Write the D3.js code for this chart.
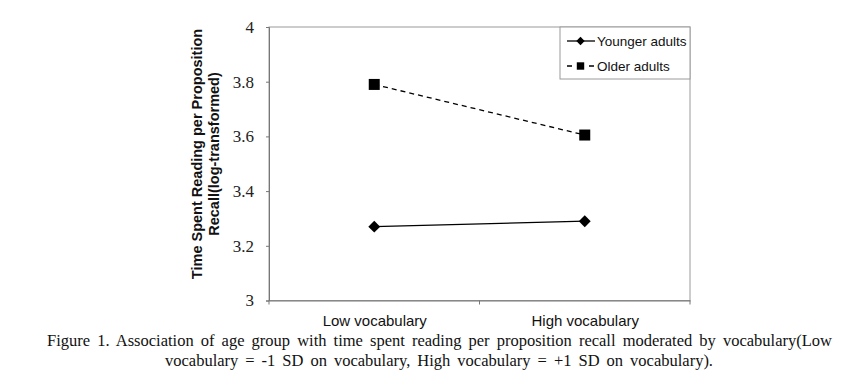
<!DOCTYPE html>
<html>
<head>
<meta charset="utf-8">
<script src="https://cdn.jsdelivr.net/npm/d3@7"></script>
<style>
  body { margin: 0; background: #fff; }
</style>
</head>
<body>
<div id="chart"></div>
<script>
// Data
var categories = ["Low vocabulary", "High vocabulary"];
var seriesNames = ["Younger adults", "Older adults"];
var youngerValues = [3.27, 3.29];
var olderValues = [3.79, 3.605];
var yTicks = [3, 3.2, 3.4, 3.6, 3.8, 4];
var yTitle = ["Time Spent Reading per Proposition", "Recall(log-transformed)"];
var caption = [
  "Figure 1. Association of age group with time spent reading per proposition recall moderated by vocabulary(Low",
  "vocabulary = -1 SD on vocabulary, High vocabulary = +1 SD on vocabulary)."
];

var width = 855;
var height = 384;
var plot = { left: 269, right: 690, top: 27, bottom: 300.5 };
var serif = "'Liberation Serif', 'Times New Roman', Times, serif";
var sans = "'Liberation Sans', Arial, Helvetica, sans-serif";

var svg = d3.select("#chart").append("svg")
    .attr("width", width)
    .attr("height", height);

var x = d3.scalePoint()
    .domain(categories)
    .range([plot.left, plot.right])
    .padding(0.5);

var y = d3.scaleLinear()
    .domain([3, 4])
    .range([plot.bottom, plot.top]);

// plot frame
svg.append("rect")
    .attr("x", plot.left)
    .attr("y", plot.top)
    .attr("width", plot.right - plot.left)
    .attr("height", plot.bottom - plot.top)
    .attr("fill", "#fff")
    .attr("stroke", "#9a9a9a")
    .attr("stroke-width", 1);

// y axis
var yAxis = svg.append("g")
    .attr("transform", "translate(" + plot.left + ",0)")
    .call(d3.axisLeft(y).tickValues(yTicks).tickSize(3).tickPadding(12)
      .tickFormat(function(d) { return d3.format("")(d); }));
yAxis.attr("font-family", serif).attr("font-size", 17);
yAxis.select(".domain").attr("stroke", "#777");
yAxis.selectAll(".tick line").attr("stroke", "#777");
yAxis.selectAll(".tick text")
    .attr("fill", "#222")
    .attr("font-family", serif)
    .style("font-family", serif)
    .style("font-size", "17px");

// x axis
var xAxis = svg.append("g")
    .attr("transform", "translate(0," + plot.bottom + ")")
    .call(d3.axisBottom(x).tickSize(0).tickPadding(15));
xAxis.attr("font-family", sans).attr("font-size", 15);
xAxis.select(".domain").attr("stroke", "#777");
xAxis.selectAll(".tick text")
    .attr("fill", "#111");
// small ticks between/around categories
var xEdges = [plot.left, (x(categories[0]) + x(categories[1])) / 2, plot.right];
svg.selectAll(".xedge")
    .data(xEdges)
    .enter().append("line")
    .attr("x1", function(d) { return d; })
    .attr("x2", function(d) { return d; })
    .attr("y1", plot.bottom)
    .attr("y2", plot.bottom + 4)
    .attr("stroke", "#777");

// y axis title
var yt = svg.append("text")
    .attr("transform", "translate(206,154) rotate(-90)")
    .attr("text-anchor", "middle")
    .style("font-family", sans)
    .style("font-weight", "bold")
    .style("font-size", "14.5px")
    .attr("fill", "#111");
yt.selectAll("tspan")
    .data(yTitle)
    .enter().append("tspan")
    .attr("x", 0)
    .attr("dy", function(d, i) { return i === 0 ? "-0.25em" : "1.15em"; })
    .text(function(d) { return d; });

// lines
var line = d3.line()
    .x(function(d, i) { return x(categories[i]); })
    .y(function(d) { return y(d); });

svg.append("path")
    .datum(youngerValues)
    .attr("d", line)
    .attr("fill", "none")
    .attr("stroke", "#000")
    .attr("stroke-width", 1.2);

svg.append("path")
    .datum(olderValues)
    .attr("d", line)
    .attr("fill", "none")
    .attr("stroke", "#000")
    .attr("stroke-width", 1.3)
    .attr("stroke-dasharray", "5,4");

var diamond = d3.symbol().type(d3.symbolDiamond2).size(90);
var square = d3.symbol().type(d3.symbolSquare).size(121);

svg.selectAll(".young")
    .data(youngerValues)
    .enter().append("path")
    .attr("d", diamond)
    .attr("transform", function(d, i) { return "translate(" + x(categories[i]) + "," + y(d) + ")"; })
    .attr("fill", "#000");

svg.selectAll(".old")
    .data(olderValues)
    .enter().append("path")
    .attr("d", square)
    .attr("transform", function(d, i) { return "translate(" + x(categories[i]) + "," + y(d) + ")"; })
    .attr("fill", "#000");

// legend
var legend = svg.append("g");
legend.append("rect")
    .attr("x", 560)
    .attr("y", plot.top)
    .attr("width", plot.right - 560)
    .attr("height", 52)
    .attr("fill", "#fff")
    .attr("stroke", "#9a9a9a");

var legendRows = legend.selectAll(".row")
    .data(seriesNames)
    .enter().append("g")
    .attr("transform", function(d, i) { return "translate(0," + (41 + i * 25) + ")"; });

legendRows.append("line")
    .attr("x1", 567)
    .attr("x2", 595)
    .attr("y1", 0)
    .attr("y2", 0)
    .attr("stroke", "#000")
    .attr("stroke-width", 1.3)
    .attr("stroke-dasharray", function(d, i) { return i === 0 ? null : "5,6"; });

legendRows.append("path")
    .attr("d", function(d, i) { return i === 0 ? d3.symbol().type(d3.symbolDiamond2).size(45)() : d3.symbol().type(d3.symbolSquare).size(55)(); })
    .attr("transform", "translate(580.5,0)")
    .attr("fill", "#000");

legendRows.append("text")
    .attr("x", 597)
    .attr("y", 0)
    .attr("dy", "0.35em")
    .style("font-family", sans)
    .style("font-size", "13.5px")
    .attr("fill", "#111")
    .text(function(d) { return d; });

// caption, justified like the printed figure
var capLines = [
  { text: caption[0], x0: 47, x1: 832, y: 346 },
  { text: caption[1], x0: 165, x1: 713, y: 366 }
];
svg.selectAll(".cap")
    .data(capLines)
    .enter().append("text")
    .attr("x", function(d) { return d.x0; })
    .attr("y", function(d) { return d.y; })
    .style("font-family", serif)
    .style("font-size", "16.5px")
    .attr("fill", "#111")
    .text(function(d) { return d.text; })
    .each(function(d) {
      var natural = this.getComputedTextLength();
      var spaces = d.text.split(" ").length - 1;
      var ws = (d.x1 - d.x0 - natural) / spaces;
      d3.select(this).style("word-spacing", ws + "px");
    });
</script>
</body>
</html>
